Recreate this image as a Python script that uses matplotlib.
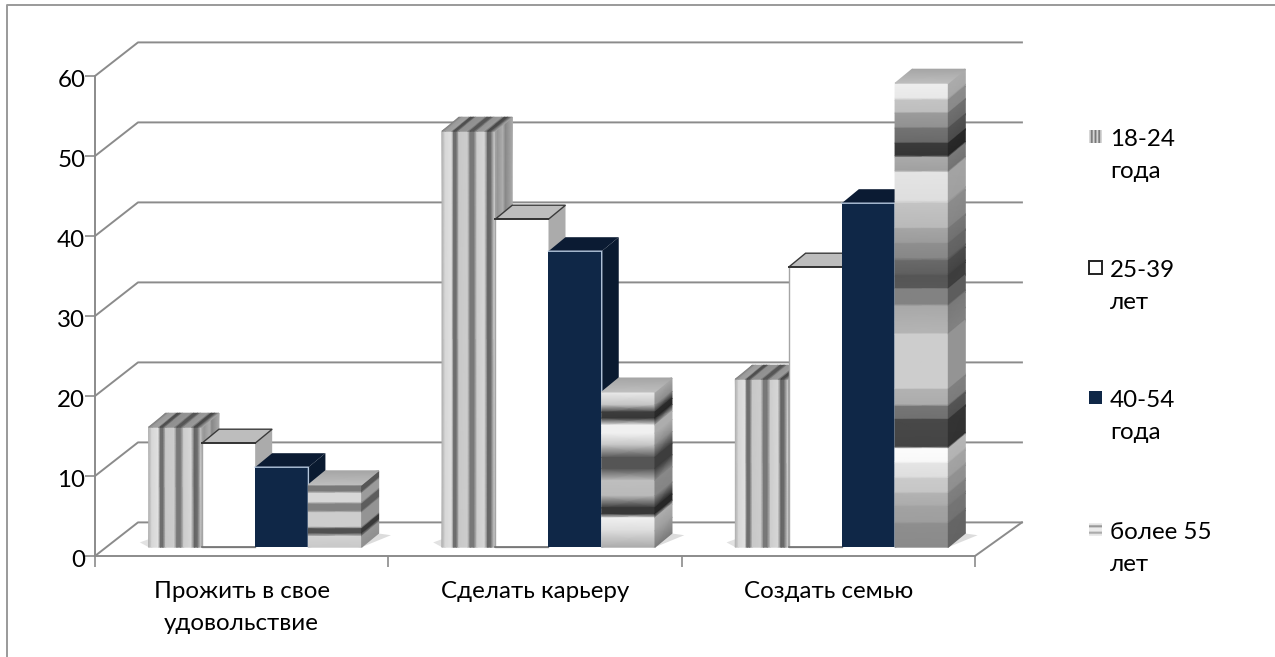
import numpy as np
import matplotlib
matplotlib.use('Agg')
import matplotlib.pyplot as plt
from matplotlib.patches import Polygon, Rectangle
from matplotlib.lines import Line2D
from matplotlib.transforms import ScaledTranslation

plt.rcParams['font.family'] = ['Lato', 'Open Sans', 'DejaVu Sans']

# values
categories = ['Прожить в свое\nудовольствие', 'Сделать карьеру', 'Создать семью']
series_names = ['18-24\nгода', '25-39\nлет', '40-54\nгода', 'более 55\nлет']
age_18_24 = [15, 52, 21]
age_25_39 = [13, 41, 35]
age_40_54 = [10, 37, 43]
age_55_up = [7.8, 19.4, 58]
series = [age_18_24, age_25_39, age_40_54, age_55_up]
y_ticks = [0, 10, 20, 30, 40, 50, 60]

# grey textures: position along the bar, grey level
stripe_pos = [0, .06, .18, .22, .27, .32, .48, .53, .6, .66, .8, .86, .92, 1]
stripe_grey = [175, 215, 225, 110, 110, 200, 205, 120, 120, 205, 215, 100, 110, 235]
bands_y = [
    [487, 488, 493, 495, 503, 505, 511, 513, 526, 528, 532, 535, 545],
    [392, 405, 412, 418, 425, 433, 445, 457, 468, 480, 495, 507, 513, 517, 530, 546],
    [83, 98, 100, 112, 113, 127, 128, 142, 143, 155, 157, 170, 172, 200, 203, 227,
     228, 242, 243, 257, 260, 273, 275, 287, 288, 303, 305, 320, 332, 333, 387, 388,
     403, 405, 417, 418, 445, 447, 460, 462, 475, 477, 490, 492, 503, 505, 520, 522, 545],
]
bands_grey = [
    [215, 120, 120, 215, 215, 130, 130, 205, 205, 80, 80, 210, 200],
    [235, 195, 60, 55, 240, 240, 195, 85, 85, 190, 185, 55, 55, 240, 220, 170],
    [238, 232, 195, 190, 155, 145, 115, 105, 58, 52, 170, 160, 228, 222, 195, 185,
     165, 155, 142, 135, 105, 95, 85, 88, 130, 130, 168, 175, 180, 205, 205, 178,
     172, 118, 112, 72, 68, 252, 248, 228, 222, 202, 198, 178, 172, 162, 158, 142, 138],
]

NAVY = '#0f2747'
GRID = '#8b8b8b'
TEXT = '#000000'
FONT = 17.4
BAR_W = 0.1815
GROUP_START = 0.183
DEPTH_X = 0.058
DEPTH_Y = 1.75
LIFT = 1.1
WALL_X = 0.1466
WALL_Y = 4.2


def shade(ax, corner, edge_u, edge_v, pos, grey, z, mult=1.0):
    # gradient parallelogram, grey changes along edge_v
    t = np.asarray(pos, dtype=float)
    xs = np.array([[corner[0] + s * edge_u[0] + k * edge_v[0] for s in (0, 1)] for k in t])
    ys = np.array([[corner[1] + s * edge_u[1] + k * edge_v[1] for s in (0, 1)] for k in t])
    g = np.clip(np.asarray(grey, dtype=float) * mult, 0, 255)
    c = np.column_stack([g, g])
    m = ax.pcolormesh(xs, ys, c, shading='gouraud', cmap='gray', vmin=0, vmax=255, zorder=z)
    m.set_clip_on(False)


def poly(ax, pts, color, z, edge='none', lw=0):
    ax.add_patch(Polygon(pts, closed=True, facecolor=color, edgecolor=edge, linewidth=lw,
                         zorder=z, clip_on=False))


fig = plt.figure(figsize=(12.75, 6.57), dpi=100)
ax = fig.add_axes([95 / 1275, (657 - 556) / 657, 880 / 1275, 480 / 657])
ax.set_xlim(0, 3)
ax.set_ylim(0, 60)

# walls
for v in y_ticks:
    ax.plot([0, WALL_X, 3 + 0.16], [v, v + WALL_Y, v + WALL_Y], color=GRID, lw=1.4,
            clip_on=False, zorder=1)
ax.plot([3, 3 + 0.16], [0, WALL_Y], color=GRID, lw=1.4, clip_on=False, zorder=1)

for g in range(3):
    left = g + GROUP_START
    # soft shadows on the floor
    poly(ax, [(left + 4 * BAR_W, LIFT), (left + 4 * BAR_W + 0.10, LIFT + 1.5),
              (left + 4 * BAR_W + 0.04, LIFT + 1.8)], '#dcdcdc', 2)
    poly(ax, [(left, LIFT), (left - 0.03, LIFT + 0.6), (left, LIFT + 1.0)], '#e2e2e2', 2)

    for s in range(4):
        x0 = left + s * BAR_W
        x1 = x0 + BAR_W
        top = series[s][g] + LIFT
        z = 3 + g * 10 + s
        du = (DEPTH_X, DEPTH_Y)
        if s == 0:
            # vertical stripes
            shade(ax, (x0, LIFT), (0, top - LIFT), (BAR_W, 0), stripe_pos, stripe_grey, z)
            shade(ax, (x1, LIFT), (0, top - LIFT), (DEPTH_X, DEPTH_Y),
                  [0, .15, .45, .6, 1], [165, 150, 175, 135, 170], z)
            shade(ax, (x0, top), (DEPTH_X, DEPTH_Y), (BAR_W, 0), stripe_pos, stripe_grey, z, 0.72)
        elif s == 1:
            poly(ax, [(x1, LIFT), (x1 + DEPTH_X, LIFT + DEPTH_Y), (x1 + DEPTH_X, top + DEPTH_Y),
                      (x1, top)], '#ababab', z)
            poly(ax, [(x0, top), (x0 + DEPTH_X, top + DEPTH_Y), (x1 + DEPTH_X, top + DEPTH_Y),
                      (x1, top)], '#bdbdbd', z, '#3a3a3a', 1.0)
            poly(ax, [(x0, LIFT), (x1, LIFT), (x1, top), (x0, top)], 'white', z)
            ax.plot([x0, x0, x1], [top, LIFT, LIFT], color='#a5a5a5', lw=1.0,
                    clip_on=False, zorder=z)
            ax.plot([x0, x1], [LIFT, LIFT], color='#6f6f6f', lw=1.2, clip_on=False, zorder=z)
            ax.plot([x0, x1], [top, top], color='#333333', lw=1.4, clip_on=False, zorder=z)
        elif s == 2:
            poly(ax, [(x1, LIFT), (x1 + DEPTH_X, LIFT + DEPTH_Y), (x1 + DEPTH_X, top + DEPTH_Y),
                      (x1, top)], '#0a1a30', z)
            poly(ax, [(x0, top), (x0 + DEPTH_X, top + DEPTH_Y), (x1 + DEPTH_X, top + DEPTH_Y),
                      (x1, top)], '#0b1b33', z)
            poly(ax, [(x0, LIFT), (x1, LIFT), (x1, top), (x0, top)], NAVY, z)
            ax.plot([x0, x1, x1, x1 + DEPTH_X], [top, top, LIFT, LIFT + DEPTH_Y], color='#b4c6dc',
                    lw=1.0, clip_on=False, zorder=z)
        else:
            # horizontal bands, stretched with the bar
            yy = np.array(bands_y[g], dtype=float)
            frac = (yy - yy[0]) / (yy[-1] - yy[0])
            shade(ax, (x0, top), (BAR_W, 0), (0, LIFT - top), frac, bands_grey[g], z)
            shade(ax, (x1, top), du, (0, LIFT - top), frac, bands_grey[g], z, 0.72)
            shade(ax, (x0, top), (BAR_W, 0), du, [0, 1], [190, 165], z)

# axes furniture
for side in ['top', 'right']:
    ax.spines[side].set_visible(False)
for side in ['left', 'bottom']:
    ax.spines[side].set_color(GRID)
    ax.spines[side].set_linewidth(1.4)
    ax.spines[side].set_zorder(1)
ax.set_yticks(y_ticks)
ax.set_xticks([0, 1, 2, 3])
ax.set_xticklabels([])
ax.set_xticks([0.5, 1.5, 2.5], minor=True)
ax.set_xticklabels(categories, minor=True, fontsize=FONT, linespacing=1.62, va='top')
ax.tick_params(axis='x', which='major', length=8, color=GRID, width=1.2)
ax.tick_params(axis='x', which='minor', length=0, pad=18, colors=TEXT)
ax.tick_params(axis='y', length=7, color=GRID, width=1.2, labelsize=FONT, pad=0, labelcolor=TEXT)
# the y labels sit a little under their ticks
for lab in ax.get_yticklabels():
    lab.set_transform(lab.get_transform() + ScaledTranslation(0, -2.5 / 100, fig.dpi_scale_trans))

# legend, drawn by hand so the two-line labels sit as in the picture
legend_y = [137, 268, 398, 530]
for name, py in zip(series_names, legend_y):
    fig.text(1110 / 1275, 1 - (py - 8) / 657, name, fontsize=FONT, va='top', ha='left',
             linespacing=1.62, color=TEXT)

swatch = []
for py in legend_y:
    swatch.append(fig.add_axes([1089 / 1275, 1 - (py + 6) / 657, 13 / 1275, 13 / 657]))
swatch[0].imshow([[215, 120, 215, 120, 215, 120, 215]], cmap='gray', vmin=0, vmax=255, aspect='auto')
swatch[1].add_patch(Rectangle((0.03, 0.03), 0.94, 0.94, fc='white', ec='#222222', lw=1.4, clip_on=False))
swatch[2].add_patch(Rectangle((0, 0), 1, 1, fc=NAVY, ec='none'))
swatch[3].imshow([[235], [150], [235], [235], [170], [235]], cmap='gray', vmin=0, vmax=255, aspect='auto')
for a in swatch:
    a.axis('off')

# outer frame of the chart
fig.add_artist(Line2D([7 / 1275, 7 / 1275, 1], [0, 1 - 5 / 657, 1 - 5 / 657], color='#9a9a9a', lw=1.4))

fig.savefig('out.png', dpi=100)
